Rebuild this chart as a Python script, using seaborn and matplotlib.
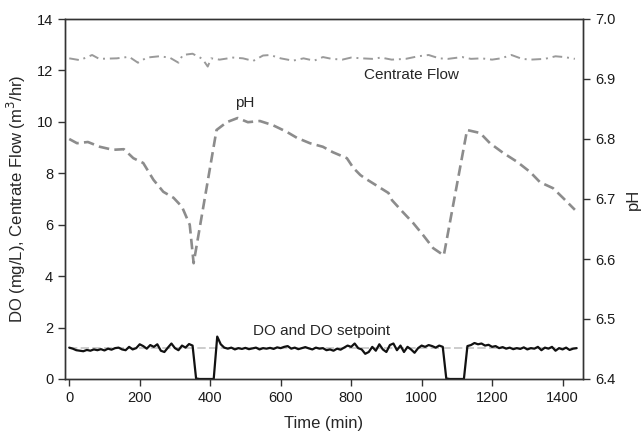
import numpy as np
import matplotlib
matplotlib.use("Agg")
import matplotlib.pyplot as plt
import seaborn as sns

# DO readings, every 10 min from 0 to 1440
do_time = list(range(0, 1441, 10))
do_values = [
    1.22, 1.18, 1.12, 1.10, 1.08, 1.13, 1.10, 1.15, 1.12, 1.16,
    1.11, 1.18, 1.14, 1.20, 1.22, 1.15, 1.12, 1.25, 1.15, 1.20,
    1.35, 1.28, 1.18, 1.32, 1.25, 1.35, 1.10, 1.05, 1.22, 1.38,
    1.20, 1.12, 1.30, 1.22, 1.36, 1.30, 0.02, 0.0, 0.0, 0.0,
    0.0, 0.0, 1.65, 1.35, 1.22, 1.18, 1.22, 1.15, 1.20, 1.17,
    1.21, 1.16, 1.19, 1.22, 1.15, 1.20, 1.18, 1.21, 1.17, 1.23,
    1.20, 1.25, 1.28, 1.18, 1.22, 1.16, 1.20, 1.24, 1.19, 1.15,
    1.22, 1.18, 1.20, 1.12, 1.15, 1.10, 1.18, 1.14, 1.22, 1.30,
    1.25, 1.38, 1.20, 1.15, 0.98, 1.05, 1.25, 1.10, 1.35, 1.15,
    1.05, 1.32, 1.38, 1.12, 1.30, 1.05, 1.25, 1.15, 1.02, 1.20,
    1.30, 1.25, 1.32, 1.28, 1.22, 1.30, 1.25, 0.02, 0.0, 0.0,
    0.0, 0.0, 0.0, 1.28, 1.32, 1.40, 1.35, 1.38, 1.30, 1.33,
    1.25, 1.28, 1.20, 1.24, 1.18, 1.22, 1.16, 1.20, 1.17, 1.23,
    1.15, 1.20, 1.18, 1.25, 1.12, 1.22, 1.18, 1.25, 1.10, 1.20,
    1.15, 1.22, 1.13, 1.18, 1.20,
]

setpoint_time = [0, 1440]
setpoint_values = [1.2, 1.2]

flow_time = [0, 30, 65, 85, 135, 170, 195, 220, 255, 285, 310, 322, 350, 378,
             393, 403, 427, 465, 493, 522, 550, 570, 600, 635, 665, 695, 720,
             745, 775, 800, 830, 860, 885, 915, 955, 990, 1020, 1050, 1075,
             1115, 1140, 1170, 1200, 1225, 1255, 1285, 1310, 1350, 1380, 1405, 1435]
flow_values = [12.47, 12.40, 12.60, 12.45, 12.47, 12.53, 12.30, 12.50, 12.55, 12.50,
               12.30, 12.60, 12.65, 12.45, 12.15, 12.47, 12.42, 12.50, 12.47, 12.37,
               12.58, 12.60, 12.47, 12.38, 12.47, 12.38, 12.52, 12.45, 12.42, 12.50,
               12.47, 12.45, 12.50, 12.42, 12.45, 12.55, 12.60, 12.47, 12.45, 12.52,
               12.45, 12.47, 12.42, 12.47, 12.60, 12.45, 12.42, 12.45, 12.55, 12.52, 12.45]

ph_time = [0, 22, 53, 87, 124, 155, 182, 210, 239, 267, 296, 320, 342, 353,
           418, 447, 478, 507, 541, 578, 617, 646, 683, 720, 748, 788, 806, 826,
           838, 906, 916, 947, 976, 1004, 1033, 1063,
           1129, 1166, 1194, 1231, 1271, 1308, 1336, 1373, 1401, 1435]
ph_values = [6.800, 6.793, 6.795, 6.787, 6.782, 6.783, 6.768, 6.760, 6.732, 6.712,
             6.702, 6.687, 6.657, 6.593,
             6.815, 6.828, 6.835, 6.828, 6.830, 6.823, 6.812, 6.802, 6.793, 6.787,
             6.778, 6.768, 6.752, 6.740, 6.735, 6.710, 6.698, 6.678, 6.660, 6.640,
             6.618, 6.606,
             6.815, 6.810, 6.793, 6.777, 6.762, 6.745, 6.728, 6.718, 6.702, 6.682]

sns.set_theme(style="ticks")
plt.rcParams['font.family'] = ['Liberation Sans', 'DejaVu Sans']
plt.rcParams['axes.edgecolor'] = '#333333'
plt.rcParams['xtick.color'] = '#333333'
plt.rcParams['ytick.color'] = '#333333'
plt.rcParams['xtick.labelcolor'] = '#1a1a1a'
plt.rcParams['ytick.labelcolor'] = '#1a1a1a'

fig = plt.figure(figsize=(6.44, 4.37), dpi=100)
ax = fig.add_axes([65 / 644, 58 / 437, 518 / 644, 360 / 437])

# left axis: DO, setpoint and centrate flow
sns.lineplot(x=setpoint_time, y=setpoint_values, ax=ax, color='#c4c4c4',
             linewidth=1.2, linestyle=(0, (5, 2)))
sns.lineplot(x=do_time, y=do_values, ax=ax, color='#111111', linewidth=1.6)
sns.lineplot(x=flow_time, y=flow_values, ax=ax, color='#9a9a9a',
             linewidth=1.4, linestyle=(0, (5, 2.5, 1, 2.5)))

ax.set_xlim(-12, 1458)
ax.set_ylim(0, 14)
ax.set_xticks(range(0, 1401, 200))
ax.set_yticks(range(0, 15, 2))
ax.set_xlabel('Time (min)', fontsize=12, labelpad=8)
ax.set_ylabel('DO (mg/L), Centrate Flow (m$^3$/hr)', fontsize=12, labelpad=6)
ax.tick_params(labelsize=10.5, length=5, width=1, direction='out')

ax.text(498, 10.74, 'pH', fontsize=11, ha='center', va='center')
ax.text(972, 11.83, 'Centrate Flow', fontsize=11, ha='center', va='center')
ax.text(717, 1.87, 'DO and DO setpoint', fontsize=11, ha='center', va='center')

# right axis: pH
ax2 = ax.twinx()
sns.lineplot(x=ph_time, y=ph_values, ax=ax2, color='#8c8c8c',
             linewidth=1.9, linestyle=(0, (4, 2)))
ax2.set_ylim(6.4, 7.0)
ax2.set_yticks(np.round(np.arange(6.4, 7.01, 0.1), 1))
ax2.set_yticklabels([f'{v:.1f}' for v in np.arange(6.4, 7.01, 0.1)])
ax2.set_ylabel('pH', fontsize=12, labelpad=8)
ax2.tick_params(labelsize=10.5, length=5, width=1, direction='out')

for a in (ax, ax2):
    for s in a.spines.values():
        s.set_visible(True)
        s.set_linewidth(1.0)

plt.savefig('out.png', dpi=100)
plt.close()
